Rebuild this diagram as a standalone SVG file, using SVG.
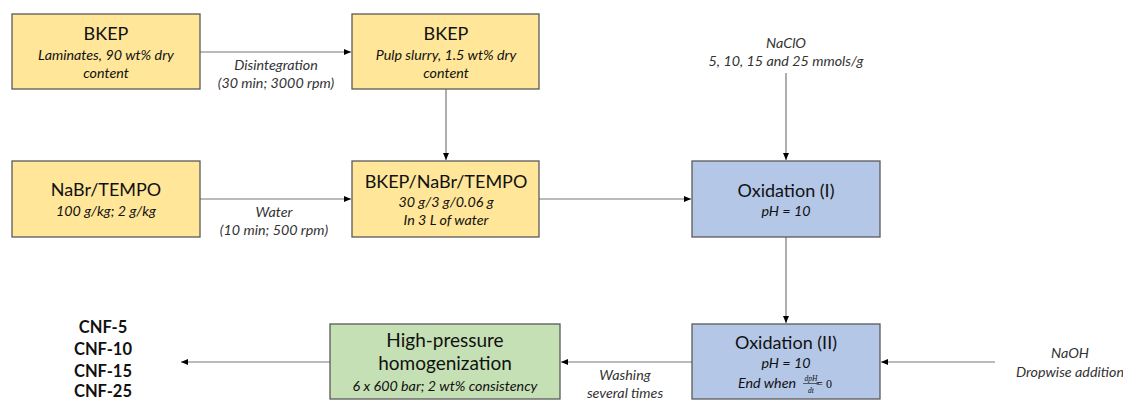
<svg xmlns="http://www.w3.org/2000/svg" width="1123" height="401" viewBox="0 0 1123 401">
<defs>
<marker id="ah" markerWidth="8" markerHeight="8" refX="7" refY="4" orient="auto" markerUnits="userSpaceOnUse">
<path d="M0,1 L7,4 L0,7 Z" fill="#000"/>
</marker>
<style>
.y{fill:#FFE699;stroke:#595959;stroke-width:1.3}
.b{fill:#B4C7E7;stroke:#595959;stroke-width:1.3}
.g{fill:#C5E0B4;stroke:#595959;stroke-width:1.3}
.t{font-family:Lato,"Open Sans",sans-serif;font-size:18px;fill:#111;text-anchor:middle}
.s{font-family:Lato,"Open Sans",sans-serif;font-size:14.3px;font-style:italic;fill:#111;text-anchor:middle}
.l{font-family:Lato,"Open Sans",sans-serif;font-size:14.3px;font-style:italic;fill:#333;text-anchor:middle}
.c{font-family:Lato,"Open Sans",sans-serif;font-size:16.5px;font-weight:bold;fill:#111;text-anchor:middle}
.m{font-family:"Liberation Serif",serif;font-size:7.5px;font-style:italic;fill:#111;text-anchor:middle}
.k{stroke:#777;stroke-width:1.2;fill:none;marker-end:url(#ah)}
</style>
</defs>
<rect width="1123" height="401" fill="#fff"/>
<g id="connectors">
<path class="k" d="M200,52 H351"/>
<path class="k" d="M446,89 V160"/>
<path class="k" d="M200,199 H351"/>
<path class="k" d="M539,199 H691"/>
<path class="k" d="M786,73 V160"/>
<path class="k" d="M786,237 V323"/>
<path class="k" d="M995,362 H881"/>
<path class="k" d="M692,362 H561"/>
<path class="k" d="M330,362 H181"/>
<text class="l" x="276" y="70">Disintegration</text>
<text class="l" x="276" y="88">(30 min; 3000 rpm)</text>
<text class="l" x="274" y="217">Water</text>
<text class="l" x="274" y="235">(10 min; 500 rpm)</text>
<text class="l" x="786" y="48">NaClO</text>
<text class="l" x="786" y="66">5, 10, 15 and 25 mmols/g</text>
<text class="l" x="1070" y="358">NaOH</text>
<text class="l" x="1070" y="377">Dropwise addition</text>
<text class="l" x="625" y="380">Washing</text>
<text class="l" x="625" y="398">several times</text>
</g>
<g id="bkep1">
<rect class="y" x="12" y="14" width="188" height="75"/>
<text class="t" x="106" y="40">BKEP</text>
<text class="s" x="106" y="60">Laminates, 90 wt% dry</text>
<text class="s" x="106" y="78">content</text>
</g>
<g id="bkep2">
<rect class="y" x="352" y="14" width="187" height="75"/>
<text class="t" x="446" y="40">BKEP</text>
<text class="s" x="446" y="60">Pulp slurry, 1.5 wt% dry</text>
<text class="s" x="446" y="78">content</text>
</g>
<g id="nabr">
<rect class="y" x="12" y="161" width="188" height="76"/>
<text class="t" x="106" y="196">NaBr/TEMPO</text>
<text class="s" x="106" y="216">100 g/kg; 2 g/kg</text>
</g>
<g id="mix">
<rect class="y" x="352" y="161" width="187" height="76"/>
<text class="t" x="446" y="188">BKEP/NaBr/TEMPO</text>
<text class="s" x="446" y="207">30 g/3 g/0.06 g</text>
<text class="s" x="446" y="225">In 3 L of water</text>
</g>
<g id="ox1">
<rect class="b" x="692" y="161" width="188" height="76"/>
<text class="t" x="786" y="197">Oxidation (I)</text>
<text class="s" x="786" y="216">pH = 10</text>
</g>
<g id="ox2">
<rect class="b" x="692" y="324" width="188" height="75"/>
<text class="t" x="786" y="349">Oxidation (II)</text>
<text class="s" x="786" y="368">pH = 10</text>
<text class="s" x="767" y="388">End when</text>
<text class="m" x="811" y="380.5">dpH</text>
<line x1="803" y1="383.5" x2="819" y2="383.5" stroke="#111" stroke-width="0.6"/>
<text class="m" x="811" y="392.5">dt</text>
<text class="s" x="824" y="388" text-anchor="start" style="font-style:normal;font-family:'Liberation Serif',serif;font-size:12px">= 0</text>
</g>
<g id="hph">
<rect class="g" x="330" y="324" width="230" height="75"/>
<text class="t" x="445" y="347" style="font-size:19px">High-pressure</text>
<text class="t" x="445" y="370" style="font-size:19px">homogenization</text>
<text class="s" x="445" y="391">6 x 600 bar; 2 wt% consistency</text>
</g>
<g id="cnf">
<text class="c" x="103" y="333">CNF-5</text>
<text class="c" x="103" y="355">CNF-10</text>
<text class="c" x="103" y="377">CNF-15</text>
<text class="c" x="103" y="397">CNF-25</text>
</g>
</svg>
